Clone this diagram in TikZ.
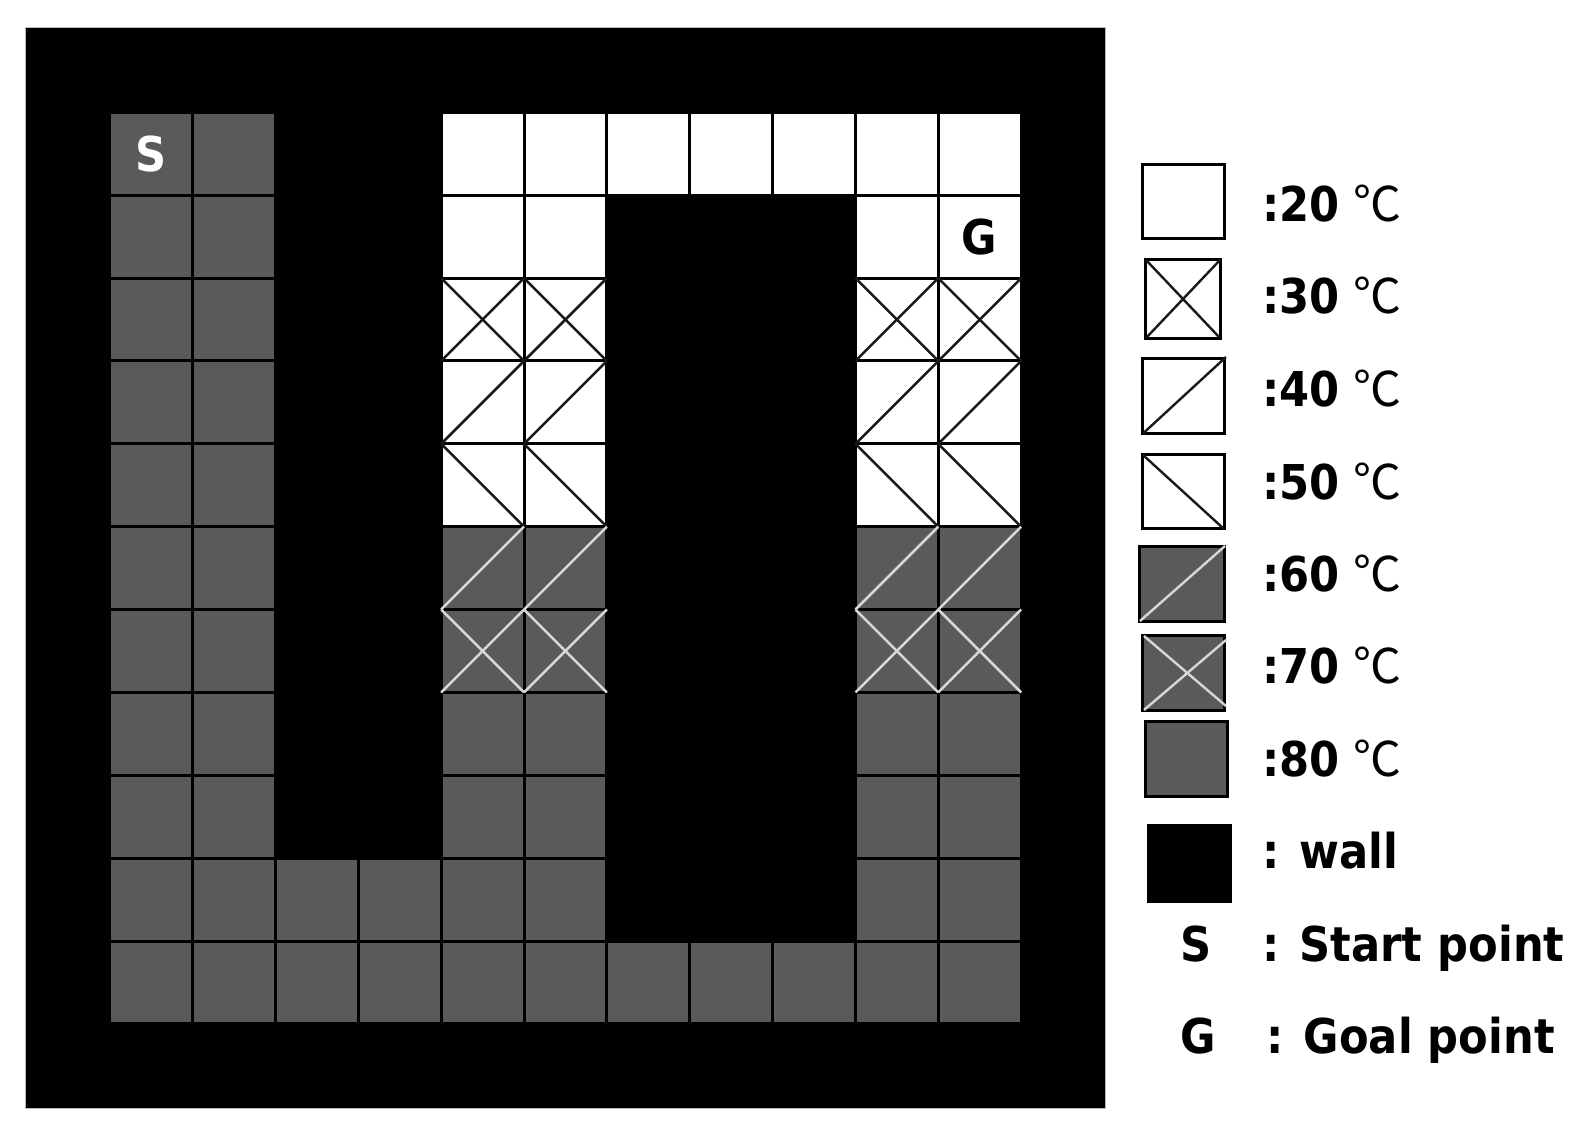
\documentclass[tikz,border=0pt]{standalone}
\usepackage{fontspec}
\setmainfont{DejaVu Sans}[FakeStretch=0.9]
\newfontfamily\cjk{Noto Sans CJK KR}
\definecolor{cellgray}{RGB}{90,90,90}
\definecolor{lightdiag}{RGB}{215,215,215}
\definecolor{darkdiag}{RGB}{25,25,25}
\newcommand\mzFill[3]{%
  \pgfmathsetmacro\mzxa{109.7+82.86*#1+1.5}%
  \pgfmathsetmacro\mzxb{109.7+82.86*(#1+1)-1.5}%
  \pgfmathsetmacro\mzya{112.4+82.86*#2+1.5}%
  \pgfmathsetmacro\mzyb{112.4+82.86*(#2+1)-1.5}%
  \fill[#3] (\mzxa,\mzya) rectangle (\mzxb,\mzyb);}
\newcommand\mzUp[3]{%
  \pgfmathsetmacro\mzxa{109.7+82.86*#1}%
  \pgfmathsetmacro\mzxb{109.7+82.86*(#1+1)}%
  \pgfmathsetmacro\mzya{112.4+82.86*#2}%
  \pgfmathsetmacro\mzyb{112.4+82.86*(#2+1)}%
  \draw[diagline,#3] (\mzxa,\mzyb) -- (\mzxb,\mzya);}
\newcommand\mzDn[3]{%
  \pgfmathsetmacro\mzxa{109.7+82.86*#1}%
  \pgfmathsetmacro\mzxb{109.7+82.86*(#1+1)}%
  \pgfmathsetmacro\mzya{112.4+82.86*#2}%
  \pgfmathsetmacro\mzyb{112.4+82.86*(#2+1)}%
  \draw[diagline,#3] (\mzxa,\mzya) -- (\mzxb,\mzyb);}
% fills
\newcommand\mzFg[2]{\mzFill{#1}{#2}{cellgray}}
\newcommand\mzFp[2]{\mzFill{#1}{#2}{cellgray}}
\newcommand\mzFq[2]{\mzFill{#1}{#2}{cellgray}}
\newcommand\mzFw[2]{\mzFill{#1}{#2}{white}}
\newcommand\mzFx[2]{\mzFill{#1}{#2}{white}}
\newcommand\mzFa[2]{\mzFill{#1}{#2}{white}}
\newcommand\mzFb[2]{\mzFill{#1}{#2}{white}}
\newcommand\mzFn[2]{}
% lines
\newcommand\mzLg[2]{}
\newcommand\mzLw[2]{}
\newcommand\mzLn[2]{}
\newcommand\mzLx[2]{\mzUp{#1}{#2}{darkdiag}\mzDn{#1}{#2}{darkdiag}}
\newcommand\mzLa[2]{\mzUp{#1}{#2}{darkdiag}}
\newcommand\mzLb[2]{\mzDn{#1}{#2}{darkdiag}}
\newcommand\mzLp[2]{\mzUp{#1}{#2}{lightdiag}}
\newcommand\mzLq[2]{\mzUp{#1}{#2}{lightdiag}\mzDn{#1}{#2}{lightdiag}}
\tikzset{
  diagline/.style={line width=1.25pt},
  legbox/.style={draw=black, line width=1.5pt},
  legdiag/.style={line width=1.2pt},
  legtext/.style={inner sep=0pt, anchor=base west, font=\bfseries\fontsize{24}{28}\selectfont},
  degtext/.style={inner sep=0pt, anchor=base west, font=\cjk\fontsize{24}{28}\selectfont},
  gridletter/.style={inner sep=0pt, font=\bfseries\fontsize{24}{28}\selectfont}
}
\begin{document}
\begin{tikzpicture}[x=0.5pt,y=-0.5pt]
\useasboundingbox (0,0) rectangle (1581,1129);
\fill[white] (0,0) rectangle (1581,1129);
% black field
\fill[black] (25,28) rectangle (1105,1108);
\draw[gray!55, line width=0.5pt] (25,28) rectangle (1105,1108);
% grid: fills
\foreach \r/\spec in {
  0/{g,g,n,n,w,w,w,w,w,w,w},
  1/{g,g,n,n,w,w,n,n,n,w,w},
  2/{g,g,n,n,x,x,n,n,n,x,x},
  3/{g,g,n,n,a,a,n,n,n,a,a},
  4/{g,g,n,n,b,b,n,n,n,b,b},
  5/{g,g,n,n,p,p,n,n,n,p,p},
  6/{g,g,n,n,q,q,n,n,n,q,q},
  7/{g,g,n,n,g,g,n,n,n,g,g},
  8/{g,g,n,n,g,g,n,n,n,g,g},
  9/{g,g,g,g,g,g,n,n,n,g,g},
  10/{g,g,g,g,g,g,g,g,g,g,g}}{
  \foreach \t [count=\c from 0] in \spec {\csname mzF\t\endcsname{\c}{\r}}
}
% grid: diagonals
\foreach \r/\spec in {
  2/{n,n,n,n,x,x,n,n,n,x,x},
  3/{n,n,n,n,a,a,n,n,n,a,a},
  4/{n,n,n,n,b,b,n,n,n,b,b},
  5/{n,n,n,n,p,p,n,n,n,p,p},
  6/{n,n,n,n,q,q,n,n,n,q,q}}{
  \foreach \t [count=\c from 0] in \spec {\csname mzL\t\endcsname{\c}{\r}}
}
% start and goal in the grid
\node[gridletter, text=white] (S) at (151.1,153.8) {S};
\node[gridletter, text=black] (G) at (979.7,236.7) {G};
% legend boxes
\draw[legbox, fill=white] (1142.5,164.5) rectangle (1224.5,238.5);
\draw[legbox, fill=white] (1145.5,259.5) rectangle (1220.5,338.5);
\draw[legdiag, darkdiag] (1146.5,337.5) -- (1220.5,259.5);
\draw[legdiag, darkdiag] (1146.5,260.5) -- (1219.5,337.5);
\draw[legbox, fill=white] (1142.5,358.5) rectangle (1224.5,433.5);
\draw[legdiag, darkdiag] (1143.5,433) -- (1226,357);
\draw[legbox, fill=white] (1142.5,454.5) rectangle (1224.5,528.5);
\draw[legdiag, darkdiag] (1143,455) -- (1224,529);
\draw[legbox, fill=cellgray] (1139.5,546.5) rectangle (1224.5,621.5);
\draw[legdiag, lightdiag] (1140,621) -- (1225,546);
\draw[legbox, fill=cellgray] (1142.5,635.5) rectangle (1224.5,710.5);
\draw[legdiag, lightdiag] (1144,710) -- (1226,640);
\draw[legdiag, lightdiag] (1144,636) -- (1226,706);
\draw[legbox, fill=cellgray] (1145.5,721.5) rectangle (1227.5,796.5);
\fill[black] (1147,824) rectangle (1232,903);
% legend texts
\node[legtext] (t20) at (1262,221.7) {:20};
\node[degtext] (d20) at (1353,221.7) {℃};
\node[legtext] (t30) at (1262,314) {:30};
\node[degtext] (d30) at (1353,314) {℃};
\node[legtext] (t40) at (1262,406.7) {:40};
\node[degtext] (d40) at (1353,406.7) {℃};
\node[legtext] (t50) at (1262,499.3) {:50};
\node[degtext] (d50) at (1353,499.3) {℃};
\node[legtext] (t60) at (1262,591) {:60};
\node[degtext] (d60) at (1353,591) {℃};
\node[legtext] (t70) at (1262,683.3) {:70};
\node[degtext] (d70) at (1353,683.3) {℃};
\node[legtext] (t80) at (1262,776) {:80};
\node[degtext] (d80) at (1353,776) {℃};
\node[legtext] (twall) at (1262,868.3) {: wall};
\node[legtext] (lS) at (1180,961) {S};
\node[legtext] (tS) at (1262,961) {: Start point};
\node[legtext] (lG) at (1180,1053.3) {G};
\node[legtext] (tG) at (1266,1053.3) {: Goal point};
\end{tikzpicture}
\end{document}
